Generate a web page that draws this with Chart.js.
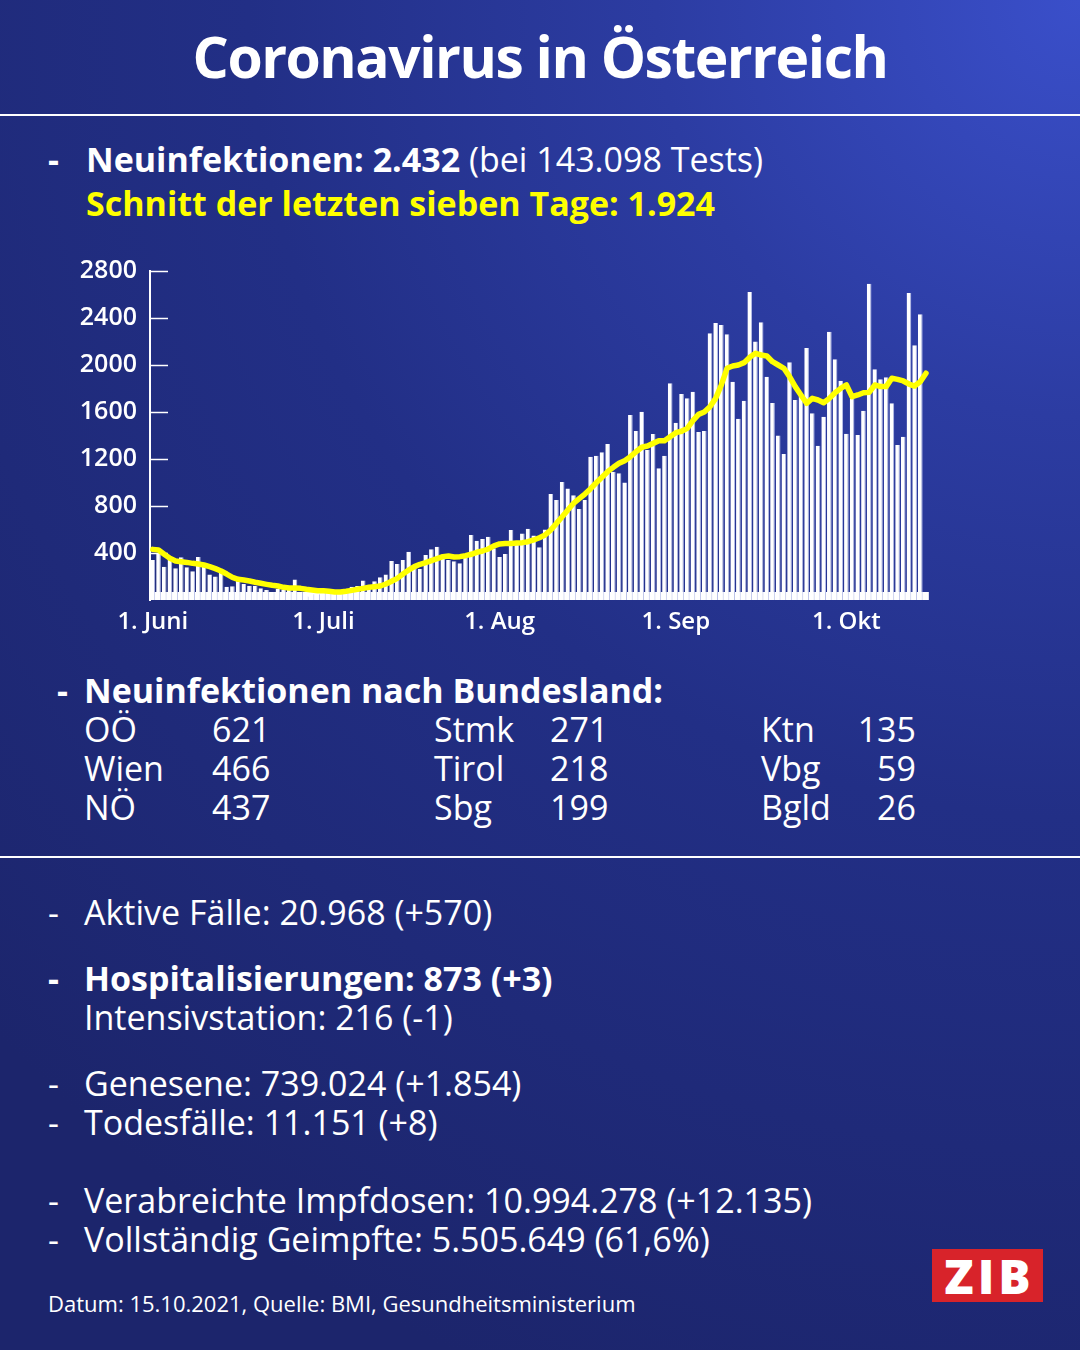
<!DOCTYPE html>
<html lang="de">
<head>
<meta charset="utf-8">
<title>Coronavirus in Österreich</title>
<script src="https://cdn.jsdelivr.net/npm/chart.js@4.4.1/dist/chart.umd.min.js"></script>
<style>
  html, body { margin: 0; padding: 0; }
  body {
    width: 1080px; height: 1350px; position: relative; overflow: hidden;
    font-family: "Open Sans", sans-serif; color: #fff;
    background: radial-gradient(ellipse 140% 110% at 100% 0%, #3a4fca 0%, #2c3ca2 28%, #222f86 55%, #1c256c 100%);
  }
  .t { position: absolute; white-space: nowrap; font-size: 34px; line-height: 40px; }
  .b { font-weight: 700; }
  .y { color: #ffff00; }
  .rule { position: absolute; left: 0; width: 1080px; height: 2px; background: #fff; }
  #title { position: absolute; left: 0; width: 1080px; top: 21px; text-align: center; font-size: 57px; line-height: 70px; font-weight: 700; letter-spacing: -1.5px; }
  #chartBox { position: absolute; left: 60px; top: 243px; width: 874px; height: 407px; }
  #footer { position: absolute; left: 48px; top: 1288px; font-size: 22px; line-height: 30px; white-space: nowrap; }
  #zib { position: absolute; left: 932px; top: 1249px; width: 111px; height: 53px; background: #d8232a;
    text-align: center; font-size: 48px; line-height: 53px; font-weight: 800; letter-spacing: 4px; text-indent: 4px; }
  .r { text-align: right; }
</style>
</head>
<body>
<div id="title">Coronavirus in Österreich</div>
<div class="rule" style="top:114px"></div>

<div class="t b" style="left:48px; top:139px">-</div>
<div class="t" style="left:86px; top:139px"><span class="b">Neuinfektionen: 2.432</span> (bei 143.098 Tests)</div>
<div class="t b y" style="left:86px; top:183px">Schnitt der letzten sieben Tage: 1.924</div>

<div id="chartBox"><canvas id="casesChart"></canvas></div>

<div class="t b" style="left:57px; top:670px">-</div>
<div class="t b" style="left:84px; top:670px">Neuinfektionen nach Bundesland:</div>

<div class="t" style="left:84px; top:709px">OÖ</div>
<div class="t" style="left:212px; top:709px">621</div>
<div class="t" style="left:84px; top:748px">Wien</div>
<div class="t" style="left:212px; top:748px">466</div>
<div class="t" style="left:84px; top:787px">NÖ</div>
<div class="t" style="left:212px; top:787px">437</div>

<div class="t" style="left:434px; top:709px">Stmk</div>
<div class="t" style="left:550px; top:709px">271</div>
<div class="t" style="left:434px; top:748px">Tirol</div>
<div class="t" style="left:550px; top:748px">218</div>
<div class="t" style="left:434px; top:787px">Sbg</div>
<div class="t" style="left:550px; top:787px">199</div>

<div class="t" style="left:761px; top:709px">Ktn</div>
<div class="t r" style="left:836px; width:80px; top:709px">135</div>
<div class="t" style="left:761px; top:748px">Vbg</div>
<div class="t r" style="left:836px; width:80px; top:748px">59</div>
<div class="t" style="left:761px; top:787px">Bgld</div>
<div class="t r" style="left:836px; width:80px; top:787px">26</div>

<div class="rule" style="top:856px"></div>

<div class="t" style="left:48px; top:892px">-</div>
<div class="t" style="left:84px; top:892px">Aktive Fälle: 20.968 (+570)</div>

<div class="t b" style="left:48px; top:958px">-</div>
<div class="t b" style="left:84px; top:958px">Hospitalisierungen: 873 (+3)</div>
<div class="t" style="left:84px; top:997px">Intensivstation: 216 (-1)</div>

<div class="t" style="left:48px; top:1063px">-</div>
<div class="t" style="left:84px; top:1063px">Genesene: 739.024 (+1.854)</div>
<div class="t" style="left:48px; top:1102px">-</div>
<div class="t" style="left:84px; top:1102px">Todesfälle: 11.151 (+8)</div>

<div class="t" style="left:48px; top:1180px">-</div>
<div class="t" style="left:84px; top:1180px">Verabreichte Impfdosen: 10.994.278 (+12.135)</div>
<div class="t" style="left:48px; top:1219px">-</div>
<div class="t" style="left:84px; top:1219px">Vollständig Geimpfte: 5.505.649 (61,6%)</div>

<div id="footer">Datum: 15.10.2021, Quelle: BMI, Gesundheitsministerium</div>
<div id="zib">ZIB</div>

<script>
// Tage 1.6.2021 - 15.10.2021
const startDate = new Date(2021, 5, 1);
const days = [];
for (let i = 0; i < 137; i++) {
  const d = new Date(startDate);
  d.setDate(startDate.getDate() + i);
  days.push(d.getDate() + "." + (d.getMonth() + 1) + ".");
}

// Neuinfektionen pro Tag
const neuinfektionen = [
  340, 397, 284, 346, 270, 363, 278, 244, 366, 281, 216, 201, 233, 113, 116,
  162, 136, 122, 122, 99, 85, 65, 94, 90, 85, 175, 71, 30, 50, 50,
  60, 70, 55, 80, 90, 113, 119, 165, 125, 159, 193, 218, 332, 306, 340,
  411, 284, 264, 383, 431, 454, 360, 340, 329, 312, 363, 553, 505, 519, 539,
  440, 366, 391, 596,
  505, 565, 607, 550, 448, 601, 902, 851, 1004, 950, 891, 774, 851, 1220, 1228,
  1257, 1328, 1092, 1078, 1001, 1574, 1438, 1603, 1277, 1413, 1121, 1228, 1844, 1509, 1753,
  1716, 1773, 1430, 1438, 2270,
  2357, 2340, 2261, 1858, 1543, 1696, 2621, 2201, 2363, 1901, 1677, 1399, 1243, 2023, 1702,
  1753, 2145, 1589, 1313, 1560, 2284, 2048, 1866, 1415, 1716, 1404, 1611, 2692, 1963, 1878,
  1895, 1674, 1319, 1390, 2613, 2168, 2432
];

// 7-Tage-Schnitt (gelbe Linie)
const schnitt = [
  431, 425, 389, 355, 332, 326, 320, 312, 306, 298, 284, 267, 247, 221, 193,
  176, 170, 162, 151, 142, 133, 125, 119, 108, 102, 102, 99, 91, 85, 79,
  79, 74, 68, 68, 74, 82, 91, 99, 108, 113, 119, 136, 159, 184, 221,
  255, 284, 304, 318, 335, 352, 369, 374, 366, 369, 377, 389, 406, 417, 434,
  460, 477, 480, 480, 485,
  488, 496, 511, 530, 553, 596, 652, 709, 766, 823, 862, 902, 947, 998, 1044,
  1092, 1129, 1163, 1186, 1220, 1262, 1300, 1311, 1333, 1356, 1356, 1390, 1424, 1436, 1461,
  1526, 1580, 1600, 1645, 1716,
  1830, 1972, 1991, 2000, 2020, 2065, 2099, 2085, 2077, 2028, 2000, 1972, 1901, 1816, 1745,
  1674, 1716, 1702, 1679, 1716, 1764, 1801, 1830, 1730, 1745, 1764, 1767, 1830, 1816, 1816,
  1887, 1878, 1864, 1838, 1821, 1858, 1930
];

// Achsenbeschriftung
const xTickIndex = [0, 30, 61, 92, 122];
const xTickText = ["1. Juni", "1. Juli", "1. Aug", "1. Sep", "1. Okt"];
const yTicks = [400, 800, 1200, 1600, 2000, 2400, 2800];

// weisse Striche an der y-Achse und Balken-Sockel
const axisMarks = {
  id: "axisMarks",
  beforeDatasetsDraw(chart) {
    const { ctx, chartArea: a, scales } = chart;
    ctx.save();
    ctx.fillStyle = "#ffffff";
    ctx.fillRect(a.left, a.bottom - 8, a.right - a.left, 8);
    ctx.strokeStyle = "#ffffff";
    ctx.lineWidth = 1.5;
    yTicks.forEach((v) => {
      const py = Math.round(scales.y.getPixelForValue(v)) + 0.5;
      ctx.beginPath();
      ctx.moveTo(a.left, py);
      ctx.lineTo(a.left + 18, py);
      ctx.stroke();
    });
    ctx.restore();
  },
};

window.onload = () => {
  const ctx = document.getElementById("casesChart").getContext("2d");
  new Chart(ctx, {
    type: "bar",
    data: {
      labels: days,
      datasets: [
        {
          type: "line",
          label: "Schnitt 7 Tage",
          data: schnitt,
          borderColor: "#ffff00",
          borderWidth: 5.5,
          pointRadius: 0,
          tension: 0,
          borderJoinStyle: "round",
          borderCapStyle: "round",
          order: 0,
        },
        {
          label: "Neuinfektionen",
          data: neuinfektionen,
          backgroundColor: "#ffffff",
          borderColor: "#b9c0e8",
          borderWidth: { top: 0, right: 1, bottom: 0, left: 0 },
          borderSkipped: false,
          barPercentage: 0.82,
          categoryPercentage: 1,
          order: 1,
        },
      ],
    },
    options: {
      responsive: true,
      maintainAspectRatio: false,
      animation: false,
      layout: { padding: { top: 16, right: 2, left: 0, bottom: 0 } },
      plugins: { legend: { display: false }, tooltip: { enabled: false } },
      scales: {
        x: {
          offset: true,
          grid: { display: false, drawTicks: false },
          border: { display: false },
          ticks: {
            autoSkip: false,
            maxRotation: 0,
            color: "#ffffff",
            padding: 8,
            font: { family: "Open Sans", size: 24, weight: "600" },
            callback: (v, i) => {
              const k = xTickIndex.indexOf(i);
              return k >= 0 ? xTickText[k] : "";
            },
          },
          afterFit: (s) => { s.height = 50; },
        },
        y: {
          min: 0,
          max: 2800,
          grid: { display: false, drawTicks: false },
          border: { display: true, color: "#ffffff", width: 2 },
          ticks: {
            stepSize: 400,
            color: "#ffffff",
            padding: 13,
            font: { family: "Open Sans", size: 25, weight: "600" },
            callback: (v) => (yTicks.includes(v) ? String(v) : ""),
          },
          afterFit: (s) => { s.width = 90; },
        },
      },
    },
    plugins: [axisMarks],
  });
};
</script>
</body>
</html>
